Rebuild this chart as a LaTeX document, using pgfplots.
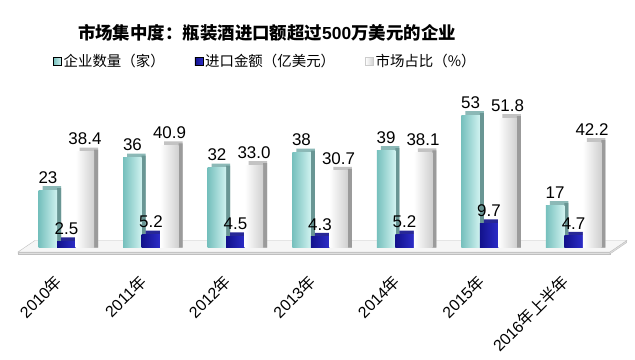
\documentclass[border=0pt]{standalone}
\usepackage{pgfplots}
\pgfplotsset{compat=1.18}
\usepackage{pgfplotstable}
\usepackage{fontspec}
\setmainfont{Liberation Sans}
\newfontfamily\cjk{Noto Sans CJK SC}
\definecolor{tealL}{RGB}{118,192,189}
\definecolor{tealR}{RGB}{208,242,240}
\definecolor{tealS}{RGB}{105,150,148}
\definecolor{tealT}{RGB}{140,185,183}
\definecolor{blueL}{RGB}{18,18,140}
\definecolor{blueR}{RGB}{45,45,200}
\definecolor{blueS}{RGB}{10,10,95}
\definecolor{blueT}{RGB}{40,40,150}
\definecolor{whiteL}{RGB}{255,255,255}
\definecolor{whiteR}{RGB}{208,208,208}
\definecolor{whiteS}{RGB}{155,155,155}
\definecolor{whiteT}{RGB}{195,195,195}

\pgfplotstableread{
x n nl m ml s sl
0 23 23 2.5 2.5 38.4 38.4
1 36 36 5.2 5.2 40.9 40.9
2 32 32 4.5 4.5 33.0 33.0
3 38 38 4.3 4.3 30.7 30.7
4 39 39 5.2 5.2 38.1 38.1
5 53 53 9.7 9.7 51.8 51.8
6 17 17 4.7 4.7 42.2 42.2
}\datatable

\begin{document}
\begin{tikzpicture}
\path[use as bounding box, fill=white] (0bp,0bp) rectangle (635bp,360bp);
\node[font=\cjk\bfseries\fontsize{17.5}{20}\selectfont] at (267bp,327.5bp)
  {市场集中度：瓶装酒进口额超过{\rmfamily\bfseries 500}万美元的企业};
\begin{axis}[
  at={(20bp,105bp)}, anchor=south west,
  scale only axis, width=600bp, height=152.5bp,
  xmin=-0.55, xmax=6.55, ymin=-3, ymax=58,
  clip=false,
  axis line style={draw=none},
  ytick=\empty,
  xtick={0,...,6},
  major tick length=0pt,
  xticklabels={{2010{\cjk 年}},{2011{\cjk 年}},{2012{\cjk 年}},{2013{\cjk 年}},{2014{\cjk 年}},{2015{\cjk 年}},{2016{\cjk 年上半年}}},
  xticklabel style={rotate=45, anchor=east, inner sep=0pt, xshift=-22bp, yshift=-11bp, font=\fontsize{16}{16}\selectfont},
  legend columns=3,
  legend style={at={(0.409,1.272)}, anchor=center, draw=none, fill=none,
    font=\cjk\fontsize{14.5}{14.5}\selectfont,
    /tikz/every even column/.append style={column sep=28bp}},
  nodes near coords style={font=\fontsize{17}{17}\selectfont},
]
% floor
\addplot[fill=gray!25, draw=gray!50, forget plot] coordinates {(-0.574,-1.8) (6.43,-1.8) (6.43,-2.6) (-0.574,-2.6) (-0.574,-1.8)};
\addplot[fill=gray!25, draw=gray!50, forget plot] coordinates {(6.43,-1.8) (6.63,2.8) (6.63,2.0) (6.43,-2.6) (6.43,-1.8)};
\addplot[fill=gray!7, draw=gray!50, forget plot] coordinates {(-0.574,-1.8) (6.43,-1.8) (6.63,2.8) (-0.373,2.8) (-0.574,-1.8)};
% legend images
\addlegendimage{legend image code/.code={\fill[left color=tealL, right color=tealR] (0bp,-4bp) rectangle (8bp,4bp);}}
\addlegendentry{企业数量（家）}
\addlegendimage{legend image code/.code={\fill[left color=blueL, right color=blueR] (0bp,-4bp) rectangle (8bp,4bp);}}
\addlegendentry{进口金额（亿美元）}
\addlegendimage{legend image code/.code={\fill[left color=whiteL, right color=whiteR, draw=gray!40] (0bp,-4bp) rectangle (8bp,4bp);}}
\addlegendentry{市场占比（\%）}
% teal
\addplot[ybar, bar width=18.5bp, bar shift=-14.5bp, fill=tealT, draw=none, forget plot] table[x=x, y expr=\thisrow{n}+1.6] {\datatable};
\addplot[ybar, bar width=4bp, bar shift=-7.25bp, fill=tealS, draw=none, forget plot] table[x=x, y expr=\thisrow{n}+0.8] {\datatable};
\pgfplotsinvokeforeach{0,...,6}{
\addplot[ybar, bar width=18.5bp, bar shift=-18.5bp, left color=tealL, right color=tealR, draw=none, forget plot,
  restrict x to domain=#1:#1,
  nodes near coords, point meta=explicit symbolic,
  every node near coord/.append style={xshift=-18.5bp, yshift=3bp}]
  table[x=x, y=n, meta=nl] {\datatable};
}
% blue
\addplot[ybar, bar width=18.5bp, bar shift=4bp, fill=blueT, draw=none, forget plot] table[x=x, y expr=\thisrow{m}+1.6] {\datatable};
\addplot[ybar, bar width=4bp, bar shift=11.25bp, fill=blueS, draw=none, forget plot] table[x=x, y expr=\thisrow{m}+0.8] {\datatable};
\pgfplotsinvokeforeach{0,...,6}{
\addplot[ybar, bar width=18.5bp, bar shift=0bp, left color=blueL, right color=blueR, draw=none, forget plot,
  restrict x to domain=#1:#1,
  nodes near coords, point meta=explicit symbolic,
  every node near coord/.append style={yshift=3bp}]
  table[x=x, y=m, meta=ml] {\datatable};
}
% white
\addplot[ybar, bar width=18.5bp, bar shift=22.5bp, fill=whiteT, draw=none, forget plot] table[x=x, y expr=\thisrow{s}+1.6] {\datatable};
\addplot[ybar, bar width=4bp, bar shift=29.75bp, fill=whiteS, draw=none, forget plot] table[x=x, y expr=\thisrow{s}+0.8] {\datatable};
\pgfplotsinvokeforeach{0,...,6}{
\addplot[ybar, bar width=18.5bp, bar shift=18.5bp, left color=whiteL, right color=whiteR, draw=none, forget plot,
  restrict x to domain=#1:#1,
  nodes near coords, point meta=explicit symbolic,
  every node near coord/.append style={xshift=18.5bp, yshift=3bp}]
  table[x=x, y=s, meta=sl] {\datatable};
}
\end{axis}
\end{tikzpicture}
\end{document}
